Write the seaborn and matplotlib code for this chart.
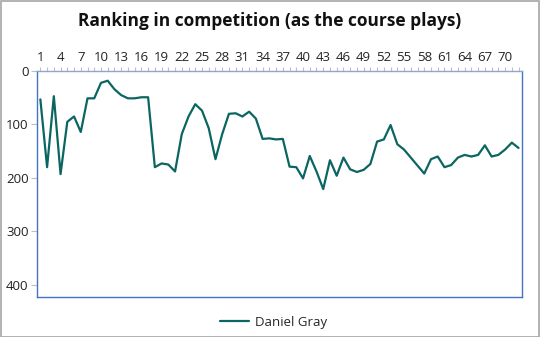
import numpy as np
import pandas as pd
import matplotlib
matplotlib.use("Agg")
import matplotlib.pyplot as plt
import seaborn as sns
from matplotlib.patches import Rectangle

sns.set_style("white")
plt.rcParams['font.family'] = ['Open Sans', 'DejaVu Sans']

rounds = list(range(1, 73))
ranking = [53, 180, 47, 193, 95, 85, 114, 51, 51, 22, 18, 34, 45, 51, 51, 49, 49, 180,
           173, 175, 188, 118, 85, 62, 74, 107, 165, 118, 80, 79, 85, 76, 89, 127, 126,
           128, 127, 179, 180, 201, 159, 188, 221, 167, 196, 162, 184, 189, 185, 174,
           132, 128, 101, 137, 147, 162, 177, 192, 165, 160, 180, 176, 162, 157, 160,
           157, 139, 160, 157, 147, 134, 144]
player = "Daniel Gray"
title = "Ranking in competition (as the course plays)"
yticks = [0, 100, 200, 300, 400]

df = pd.DataFrame({"round": rounds, "rank": ranking, "player": player})

fig = plt.figure(figsize=(5.4, 3.37), dpi=100)
ax = fig.add_axes([0.0685, 0.119, 0.898, 0.670])

sns.lineplot(data=df, x="round", y="rank", hue="player", palette=["#0B6561"],
             linewidth=1.6, ax=ax, legend=True)

ax.set_xlim(0.5, 72.5)
ax.set_ylim(423, 0)
ax.xaxis.tick_top()
ax.set_xticks(rounds, minor=True)
ax.set_xticks(rounds[::3])
ax.set_xticklabels([str(r) for r in rounds[::3]])
ax.set_yticks(yticks)
ax.set_xlabel("")
ax.set_ylabel("")
ax.tick_params(axis='x', which='both', top=True, bottom=False, direction='out',
               length=3, width=0.8, color='#BFBFBF', labelsize=9.5, pad=2,
               labelcolor='#222222')
ax.tick_params(axis='y', which='major', left=True, direction='out', length=4,
               width=0.8, color='#BFBFBF', labelsize=9.5, labelcolor='#222222', pad=2)
for s in ax.spines.values():
    s.set_visible(True)
    s.set_color('#4472C4')
    s.set_linewidth(1.0)
ax.spines['top'].set_color('#8FA5CF')

leg = ax.legend(loc='upper center', bbox_to_anchor=(0.488, -0.03), frameon=False,
                fontsize=9.5, handlelength=2.2, handletextpad=0.4)

fig.suptitle(title, x=0.5, y=0.965, fontsize=12.5, fontweight='bold', color='#111111')

fig.patches.append(Rectangle((0.001, 0.001), 0.997, 0.996, transform=fig.transFigure,
                             fill=False, edgecolor='#A6A6A6', linewidth=1.2))

fig.savefig("out.png", dpi=100)
